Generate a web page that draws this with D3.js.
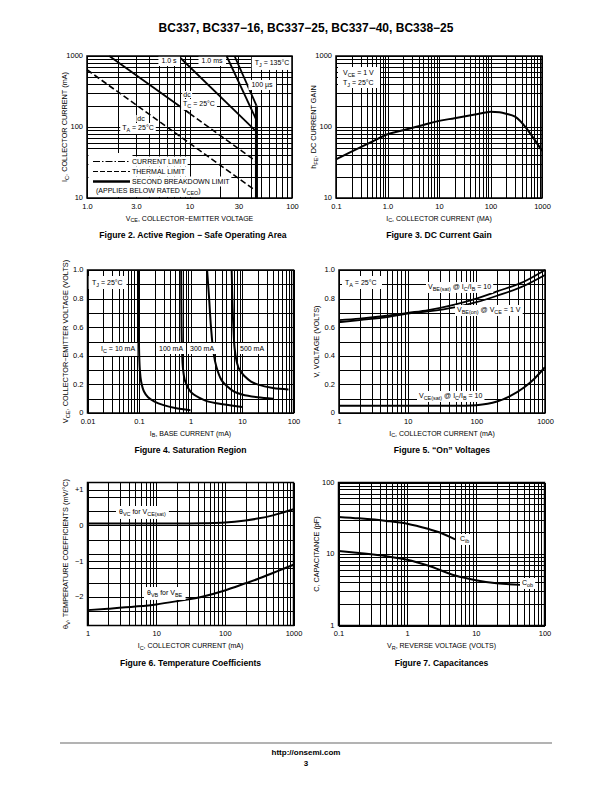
<!DOCTYPE html>
<html><head><meta charset="utf-8">
<script src="https://cdn.jsdelivr.net/npm/d3@7"></script>
<style>
body{margin:0;background:#fff}
svg{display:block}
</style></head><body>
<svg id="page" width="612" height="792"></svg>
<script>
// ---------- DATA ----------
// Figure 2: Safe operating area (VCE [V], IC [mA])
const soaXTicks = [1, 3, 10, 30, 100];
const soaXLabels = ["1.0", "3.0", "10", "30", "100"];
const soaYTicks = [10, 100, 1000];
const soaYLabels = ["10", "100", "1000"];
const soaTA = [[1, 640], [45, 12.5]];
const soaTCsolid = [[1.65, 1000], [10, 156]];
const soaTCdash = [[10, 156], [45, 32.5]];
const soa1s = [[7.8, 1000], [45, 86]];
const soa1ms = [[23, 1000], [45, 125]];
const soa100us = [[27.5, 1000], [45, 200]];
const soaBV = [[45, 200], [45, 10]];

// Figure 3: DC current gain
const hfeXTicks = [0.1, 1, 10, 100, 1000];
const hfeXLabels = ["0.1", "1.0", "10", "100", "1000"];
const hfeYTicks = [10, 100, 1000];
const hfeYLabels = ["10", "100", "1000"];
const hfeIc = [0.1, 0.2, 0.5, 1, 2, 5, 10, 20, 50, 80, 100, 150, 200, 300, 500, 700, 1000];
const hfe   = [35, 45, 62, 79, 90, 107, 122, 133, 150, 160, 164, 161, 154, 140, 96, 68, 46];

// Figure 4: Saturation region (IB [mA], VCE [V])
const satXTicks = [0.01, 0.1, 1, 10, 100];
const satXLabels = ["0.01", "0.1", "1", "10", "100"];
const satYTicks = [0, 0.2, 0.4, 0.6, 0.8, 1.0];
const satYLabels = ["0", "0.2", "0.4", "0.6", "0.8", "1.0"];
const satIb10  = [0.097, 0.099, 0.101, 0.104, 0.11, 0.125, 0.15, 0.2, 0.3, 0.5, 1.0];
const satV10   = [1.0, 0.6, 0.4, 0.3, 0.22, 0.15, 0.11, 0.08, 0.055, 0.035, 0.02];
const satIb100 = [0.66, 0.67, 0.69, 0.72, 0.79, 1.0, 1.5, 2, 3, 5, 10];
const satV100  = [1.0, 0.6, 0.4, 0.3, 0.22, 0.15, 0.105, 0.085, 0.07, 0.058, 0.042];
const satIb300 = [2.1, 2.3, 2.5, 2.8, 3.2, 4, 5, 7, 10, 20, 40];
const satV300  = [1.0, 0.8, 0.6, 0.42, 0.32, 0.23, 0.19, 0.15, 0.13, 0.11, 0.1];
const satIb500 = [6.3, 6.5, 6.8, 7.2, 8, 9, 11, 15, 20, 40, 80];
const satV500  = [1.0, 0.8, 0.6, 0.45, 0.35, 0.3, 0.26, 0.22, 0.2, 0.175, 0.165];

// Figure 5: "On" voltages (IC [mA], V)
const onXTicks = [1, 10, 100, 1000];
const onXLabels = ["1", "10", "100", "1000"];
const onYTicks = [0, 0.2, 0.4, 0.6, 0.8, 1.0];
const onYLabels = ["0", "0.2", "0.4", "0.6", "0.8", "1.0"];
const onIc   = [1, 2, 5, 10, 20, 50, 100, 200, 500, 1000];
const vbeSat = [0.65, 0.66, 0.68, 0.70, 0.72, 0.76, 0.80, 0.85, 0.92, 1.0];
const vbeOn  = [0.635, 0.65, 0.67, 0.695, 0.71, 0.74, 0.775, 0.82, 0.89, 0.965];
const vceSatIc = [1, 10, 50, 100, 200, 300, 500, 700, 1000];
const vceSat   = [0.05, 0.05, 0.05, 0.055, 0.08, 0.115, 0.18, 0.24, 0.32];

// Figure 6: Temperature coefficients (IC [mA], mV/°C)
const tcXTicks = [1, 10, 100, 1000];
const tcXLabels = ["1", "10", "100", "1000"];
const tcYTicks = [1, 0, -1, -2];
const tcYLabels = ["+1", "0", "\u22121", "\u22122"];
const tcYGrid = [1, 0.8, 0.4, 0, -0.4, -0.8, -1, -1.2, -1.6, -2, -2.4];
const tcIc    = [1, 2, 5, 10, 20, 50, 100, 200, 300, 500, 700, 1000];
const thetaVC = [0.05, 0.05, 0.05, 0.05, 0.05, 0.06, 0.08, 0.14, 0.19, 0.28, 0.36, 0.45];
const thetaVB = [-2.37, -2.33, -2.27, -2.21, -2.12, -1.98, -1.82, -1.62, -1.5, -1.33, -1.22, -1.1];

// Figure 7: Capacitances (VR [V], pF)
const capXTicks = [0.1, 1, 10, 100];
const capXLabels = ["0.1", "1", "10", "100"];
const capYTicks = [1, 10, 100];
const capYLabels = ["1", "10", "100"];
const capCibV = [0.1, 0.2, 0.5, 1, 2, 3, 5];
const capCib  = [33, 31.5, 29, 26.5, 22.5, 20, 16];
const capCobV = [0.1, 0.2, 0.5, 1, 2, 5, 10, 20, 45];
const capCob  = [11, 10.3, 9.3, 8.3, 6.9, 5.0, 4.3, 3.9, 3.7];

// ---------- DRAWING ----------
const FONT = '"Liberation Sans Narrow","Arial Narrow","Liberation Sans",Arial,sans-serif';
const BFONT = '"Liberation Sans",Arial,Helvetica,sans-serif';
const svg = d3.select("#page");
const zip = (a, b) => a.map((v, i) => [v, b[i]]);

function rich(t, str, fs) {
  const re = /_\{([^}]*)\}/g;
  let last = 0, m; const parts = [];
  while ((m = re.exec(str))) {
    if (m.index > last) parts.push({ t: str.slice(last, m.index), s: false });
    parts.push({ t: m[1], s: true }); last = re.lastIndex;
  }
  if (last < str.length) parts.push({ t: str.slice(last), s: false });
  let inSub = false;
  parts.forEach(p => {
    const ts = t.append("tspan").text(p.t);
    if (p.s) { ts.attr("font-size", fs * 0.78).attr("dy", inSub ? 0 : fs * 0.28); inSub = true; }
    else { ts.attr("font-size", fs).attr("dy", inSub ? -fs * 0.28 : 0); inSub = false; }
  });
}

function addText(g, x, y, str, o = {}) {
  const size = o.size || 7;
  const grp = g.append("g");
  const rect = grp.append("rect").attr("fill", "#fff");
  const t = grp.append("text").attr("x", x).attr("y", y)
    .attr("text-anchor", o.anchor || "start").attr("font-size", size)
    .attr("font-family", o.bold ? BFONT : FONT).attr("font-weight", o.bold ? "bold" : null)
    .attr("fill", "#000");
  rich(t, str, size);
  if (o.rotate) t.attr("transform", `rotate(${o.rotate},${x},${y})`);
  if (o.bg) {
    const bb = t.node().getBBox(); const px = o.padx ?? 2, py = o.pady ?? 1;
    rect.attr("x", bb.x - px).attr("y", bb.y - py).attr("width", bb.width + 2 * px).attr("height", bb.height + 2 * py);
  } else rect.remove();
  return grp;
}

function panel(c) {
  const g = svg.append("g");
  const x = (c.xlog ? d3.scaleLog() : d3.scaleLinear()).domain(c.xd).range([c.l, c.r]);
  const y = (c.ylog ? d3.scaleLog() : d3.scaleLinear()).domain(c.yd).range([c.b, c.t]);
  const xg = c.xgrid || x.ticks();
  const yg = c.ygrid || (c.ylog ? y.ticks() : y.ticks(10));
  const h = c.b - c.t, w = c.r - c.l;
  const gx = g.append("g").attr("transform", `translate(0,${c.b})`)
    .call(d3.axisBottom(x).tickValues(xg).tickSize(-h).tickFormat(""));
  const gy = g.append("g").attr("transform", `translate(${c.l},0)`)
    .call(d3.axisLeft(y).tickValues(yg).tickSize(-w).tickFormat(""));
  [gx, gy].forEach(s => { s.select(".domain").remove(); s.selectAll("line").attr("stroke", "#000").attr("stroke-width", 1).attr("shape-rendering", "crispEdges"); });
  // tick labels
  const lx = g.append("g").attr("transform", `translate(0,${c.b})`)
    .call(d3.axisBottom(x).tickValues(c.xticks).tickFormat((d, i) => c.xlabels[i]).tickSize(0).tickPadding(5.5));
  const ly = g.append("g").attr("transform", `translate(${c.l},0)`)
    .call(d3.axisLeft(y).tickValues(c.yticks).tickFormat((d, i) => c.ylabels[i]).tickSize(0).tickPadding(4));
  [lx, ly].forEach(s => { s.select(".domain").remove(); s.attr("font-size", 7.5).attr("font-family", FONT); s.selectAll("text").attr("fill", "#000"); });
  ly.selectAll("text").attr("dy", "0.25em");
  // titles
  addText(g, (c.l + c.r) / 2, c.b + 22.5, c.xtitle, { anchor: "middle", size: 7 });
  addText(g, c.l - 20, (c.t + c.b) / 2, c.ytitle, { anchor: "middle", size: 7.3, rotate: -90 });
  addText(g, c.capx || (c.l + c.r) / 2, c.b + 40, c.caption, { anchor: "middle", size: 8.6, bold: true });
  const curves = g.append("g");
  const labels = g.append("g");
  const border = g.append("rect").attr("x", c.l).attr("y", c.t).attr("width", w).attr("height", h)
    .attr("fill", "none").attr("stroke", "#000").attr("stroke-width", 1.5);
  return { g, x, y, curves, labels };
}

function drawLine(p, data, o = {}) {
  const line = d3.line().x(d => p.x(d[0])).y(d => p.y(d[1])).curve(o.curve || d3.curveMonotoneX);
  p.curves.append("path").datum(data).attr("d", line).attr("fill", "none")
    .attr("stroke", "#000").attr("stroke-width", o.w || 2)
    .attr("stroke-dasharray", o.dash || null).attr("stroke-linecap", "butt");
}

// Header & footer
addText(svg, 306, 32, "BC337, BC337\u221216, BC337\u221225, BC337\u221240, BC338\u221225", { anchor: "middle", size: 12, bold: true });
svg.append("line").attr("x1", 60).attr("x2", 552).attr("y1", 743).attr("y2", 743).attr("stroke", "#b3b3b3").attr("stroke-width", 2);
addText(svg, 306, 755, "http://onsemi.com", { anchor: "middle", size: 8, bold: true });
addText(svg, 306, 766, "3", { anchor: "middle", size: 8, bold: true });

// ---- Figure 2 ----
const p1 = panel({ l: 87, r: 292, t: 56, b: 198, xlog: true, ylog: true, xd: [1, 100], yd: [10, 1000],
  xticks: soaXTicks, xlabels: soaXLabels, yticks: soaYTicks, ylabels: soaYLabels,
  xtitle: "V_{CE}, COLLECTOR\u2212EMITTER VOLTAGE", ytitle: "I_{C}, COLLECTOR CURRENT (mA)",
  caption: "Figure 2. Active Region \u2212 Safe Operating Area", capx: 193 });
drawLine(p1, soaTA, { curve: d3.curveLinear, w: 1.6, dash: "6,3" });
drawLine(p1, soaTCsolid, { curve: d3.curveLinear, w: 1.8 });
drawLine(p1, soaTCdash, { curve: d3.curveLinear, w: 1.6, dash: "6,3" });
drawLine(p1, soa1s, { curve: d3.curveLinear, w: 1.8 });
drawLine(p1, soa1ms, { curve: d3.curveLinear, w: 1.8 });
drawLine(p1, soa100us, { curve: d3.curveLinear, w: 1.8 });
drawLine(p1, soaBV, { curve: d3.curveLinear, w: 3 });
{
  const L = p1.labels;
  addText(L, 169, 63, "1.0 s", { anchor: "middle", bg: true, padx: 3, pady: 2 });
  addText(L, 212, 63, "1.0 ms", { anchor: "middle", bg: true, padx: 3, pady: 2 });
  addText(L, 272, 65, "T_{J} = 135\u00b0C", { anchor: "middle", bg: true, padx: 3, pady: 2 });
  addText(L, 262, 87, "100 \u00b5s", { anchor: "middle", bg: true, padx: 3, pady: 1 });
  addText(L, 187, 97, "dc", { anchor: "middle", bg: true, padx: 1, pady: 0 });
  addText(L, 199, 106, "T_{C} = 25\u00b0C", { anchor: "middle", bg: true, padx: 2, pady: 1 });
  addText(L, 141, 121, "dc", { anchor: "middle", bg: true, padx: 1, pady: 0 });
  addText(L, 138, 130, "T_{A} = 25\u00b0C", { anchor: "middle", bg: true, padx: 2, pady: 1 });
  // legend
  L.append("rect").attr("x", 88.5).attr("y", 153).attr("width", 44).attr("height", 44).attr("fill", "#fff");
  const lg = [[161.5, "CURRENT LIMIT", "7,2,1.5,2", 1], [171.5, "THERMAL LIMIT", "5,2", 1.2], [181.5, "SECOND BREAKDOWN LIMIT", null, 2.6]];
  lg.forEach(([yy, txt, dash, w]) => {
    addText(L, 132, yy + 2.5, txt, { bg: true, padx: 1, pady: 1.5 });
    L.append("line").attr("x1", 93).attr("x2", 130).attr("y1", yy).attr("y2", yy)
      .attr("stroke", "#000").attr("stroke-width", w).attr("stroke-dasharray", dash);
  });
  addText(L, 96, 193, "(APPLIES BELOW RATED V_{CEO})", { bg: true, padx: 1, pady: 1 });
}

// ---- Figure 3 ----
const p2 = panel({ l: 336, r: 542, t: 56, b: 198, xlog: true, ylog: true, xd: [0.1, 1000], yd: [10, 1000],
  xticks: hfeXTicks, xlabels: hfeXLabels, yticks: hfeYTicks, ylabels: hfeYLabels,
  xtitle: "I_{C}, COLLECTOR CURRENT (MA)", ytitle: "h_{FE}, DC CURRENT GAIN",
  caption: "Figure 3. DC Current Gain" });
drawLine(p2, zip(hfeIc, hfe), { w: 2 });
{
  const L = p2.labels;
  L.append("rect").attr("x", 338).attr("y", 67).attr("width", 42).attr("height", 21).attr("fill", "#fff");
  addText(L, 343, 75, "V_{CE} = 1 V", {});
  addText(L, 343, 85, "T_{J} = 25\u00b0C", {});
}

// ---- Figure 4 ----
const p3 = panel({ l: 87.5, r: 293.5, t: 270, b: 413, xlog: true, ylog: false, xd: [0.01, 100], yd: [0, 1],
  xticks: satXTicks, xlabels: satXLabels, yticks: satYTicks, ylabels: satYLabels,
  xtitle: "I_{B}, BASE CURRENT (mA)", ytitle: "V_{CE}, COLLECTOR\u2212EMITTER VOLTAGE (VOLTS)",
  caption: "Figure 4. Saturation Region" });
const cr = d3.curveCatmullRom.alpha(0.5);
drawLine(p3, zip(satIb10, satV10), { curve: cr });
drawLine(p3, zip(satIb100, satV100), { curve: cr });
drawLine(p3, zip(satIb300, satV300), { curve: cr });
drawLine(p3, zip(satIb500, satV500), { curve: cr });
{
  const L = p3.labels;
  L.append("rect").attr("x", 88.5).attr("y", 276).attr("width", 38).attr("height", 13).attr("fill", "#fff");
  addText(L, 92, 285, "T_{J} = 25\u00b0C", {});
  addText(L, 101, 351, "I_{C} = 10 mA", { bg: true, padx: 2, pady: 2 });
  addText(L, 159, 351, "100 mA", { bg: true, padx: 2, pady: 2 });
  addText(L, 190, 351, "300 mA", { bg: true, padx: 2, pady: 2 });
  addText(L, 240, 351, "500 mA", { bg: true, padx: 2, pady: 2 });
}

// ---- Figure 5 ----
const p4 = panel({ l: 339, r: 545, t: 270, b: 413, xlog: true, ylog: false, xd: [1, 1000], yd: [0, 1],
  xticks: onXTicks, xlabels: onXLabels, yticks: onYTicks, ylabels: onYLabels,
  xtitle: "I_{C}, COLLECTOR CURRENT (mA)", ytitle: "V, VOLTAGE (VOLTS)",
  caption: "Figure 5. \u201cOn\u201d Voltages" });
drawLine(p4, zip(onIc, vbeSat), { w: 1.8 });
drawLine(p4, zip(onIc, vbeOn), { w: 1.8 });
drawLine(p4, zip(vceSatIc, vceSat), { w: 2 });
{
  const L = p4.labels;
  L.append("rect").attr("x", 342).attr("y", 276).attr("width", 40).attr("height", 13).attr("fill", "#fff");
  addText(L, 345, 285, "T_{A} = 25\u00b0C", {});
  addText(L, 428, 289, "V_{BE(sat)} @ I_{C}/I_{B} = 10", { bg: true, padx: 2, pady: 1 });
  addText(L, 457, 312, "V_{BE(on)} @ V_{CE} = 1 V", { bg: true, padx: 2, pady: 1 });
  addText(L, 419, 398, "V_{CE(sat)} @ I_{C}/I_{B} = 10", { bg: true, padx: 2, pady: 1 });
}

// ---- Figure 6 ----
const p5 = panel({ l: 87.5, r: 293.5, t: 482.5, b: 625.5, xlog: true, ylog: false, xd: [1, 1000], yd: [-2.8, 1.2],
  ygrid: tcYGrid, xticks: tcXTicks, xlabels: tcXLabels, yticks: tcYTicks, ylabels: tcYLabels,
  xtitle: "I_{C}, COLLECTOR CURRENT (mA)", ytitle: "\u03b8_{V}, TEMPERATURE COEFFICIENTS (mV/\u00b0C)",
  caption: "Figure 6. Temperature Coefficients" });
drawLine(p5, zip(tcIc, thetaVC), { w: 2 });
drawLine(p5, zip(tcIc, thetaVB), { w: 2 });
{
  const L = p5.labels;
  addText(L, 119, 514, "\u03b8_{VC} for V_{CE(sat)}", { bg: true, padx: 3, pady: 2 });
  addText(L, 147, 595, "\u03b8_{VB} for V_{BE}", { bg: true, padx: 3, pady: 2 });
}

// ---- Figure 7 ----
const p6 = panel({ l: 338.5, r: 544.5, t: 482.5, b: 625.5, xlog: true, ylog: true, xd: [0.1, 100], yd: [1, 100],
  xticks: capXTicks, xlabels: capXLabels, yticks: capYTicks, ylabels: capYLabels,
  xtitle: "V_{R}, REVERSE VOLTAGE (VOLTS)", ytitle: "C, CAPACITANCE (pF)",
  caption: "Figure 7. Capacitances" });
drawLine(p6, zip(capCibV, capCib), { w: 2 });
drawLine(p6, zip(capCobV, capCob), { w: 2 });
{
  const L = p6.labels;
  addText(L, 460, 541, "C_{ib}", { bg: true, padx: 2, pady: 1 });
  addText(L, 522, 585, "C_{ob}", { bg: true, padx: 2, pady: 1 });
}
</script>
</body></html>
